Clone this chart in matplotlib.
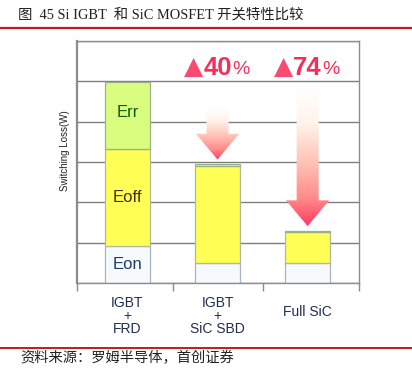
import matplotlib
matplotlib.use("Agg")
import matplotlib.pyplot as plt
import numpy as np
from matplotlib.patches import Polygon
from matplotlib.colors import LinearSegmentedColormap
from matplotlib.lines import Line2D

# ---- data ----
categories = ["IGBT\n+\nFRD", "IGBT\n+\nSiC SBD", "Full SiC"]
eon = [0.92, 0.49, 0.49]
eoff = [2.40, 2.41, 0.78]
err = [1.67, 0.05, 0.03]
reductions = ["", "40", "74"]
arrow_tops = [None, 4.35, 4.8]

title = "图  45 Si IGBT  和 SiC MOSFET 开关特性比较"
source = "资料来源：罗姆半导体，首创证券"

W, H = 412, 381
fig = plt.figure(figsize=(W / 100, H / 100), dpi=100)
fig.patch.set_facecolor("white")

def fx(px):
    return px / W

def fy(py):
    return 1 - py / H

ax = fig.add_axes([fx(77), fy(283), fx(359) - fx(77), fy(41) - fy(283)])

x = np.arange(len(categories))
bw = 0.5
edge = "#a8b4c8"
ax.bar(x, eon, bw, color="#f6fafd", edgecolor=edge, lw=0.9, zorder=2)
ax.bar(x, eoff, bw, bottom=eon, color="#ffff55", edgecolor="#b0b8a0", lw=0.9, zorder=2)
bot2 = np.array(eon) + np.array(eoff)
ax.bar(x, err, bw, bottom=bot2, color="#d9fd7e", edgecolor="#9ab08a", lw=0.9, zorder=2)
totals = bot2 + np.array(err)

sans = ["Liberation Sans", "DejaVu Sans"]
ax.text(x[0], bot2[0] + err[0] / 2 + 0.08, "Err", ha="center", va="center",
        fontsize=12, color="#0d5a0d", family=sans, zorder=4)
ax.text(x[0], eon[0] + eoff[0] / 2, "Eoff", ha="center", va="center",
        fontsize=12, color="#4a2c05", family=sans, zorder=4)
ax.text(x[0], eon[0] / 2, "Eon", ha="center", va="center",
        fontsize=12, color="#1f3a6a", family=sans, zorder=4)

# gradient arrows
cmap = LinearSegmentedColormap.from_list(
    "arr", [(0.0, "#ffffff"), (0.25, "#fff3ea"), (0.55, "#ffc0b4"),
            (0.8, "#ff8a8a"), (1.0, "#ff3a5e")])
shaft_hw, head_hw, head_len = 0.122, 0.24, 0.64
for i in range(len(categories)):
    top = arrow_tops[i]
    if top is None:
        continue
    tip = totals[i] + 0.11
    hb = tip + head_len
    verts = [(x[i] - shaft_hw, top), (x[i] + shaft_hw, top), (x[i] + shaft_hw, hb),
             (x[i] + head_hw, hb), (x[i], tip), (x[i] - head_hw, hb),
             (x[i] - shaft_hw, hb)]
    poly = Polygon(verts, closed=True, facecolor="none", edgecolor="none")
    ax.add_patch(poly)
    grad = np.linspace(0, 1, 256).reshape(-1, 1)
    im = ax.imshow(grad, cmap=cmap, aspect="auto", origin="upper",
                   extent=[x[i] - head_hw, x[i] + head_hw, tip, top],
                   zorder=3, interpolation="bilinear")
    im.set_clip_path(poly)
    num = ax.text(x[i] - 0.16, 5.33, reductions[i], ha="left", va="center",
                  fontsize=18.5, fontweight="bold", color="#f2305a", family=sans, zorder=4)
    ax.annotate("%", xy=(1.0, 0.0), xycoords=num, xytext=(0.3, 1.5),
                textcoords="offset points", ha="left", va="bottom",
                fontsize=14, color="#f2305a", family=sans, zorder=4)
    ax.annotate("▲", xy=(0.0, 0.0), xycoords=num, xytext=(-0.3, 0.5),
                textcoords="offset points", ha="right", va="bottom",
                fontsize=18, color="#fb4a72", family=["DejaVu Sans"], zorder=4)

ax.set_xlim(-0.56, 2.57)
ax.set_ylim(0, 6)
ax.set_yticks(np.arange(0, 7, 1))
ax.set_yticklabels([])
ax.tick_params(axis="y", length=0)
ax.yaxis.grid(True, color="#7f7f7f", lw=1.0, zorder=0)
ax.set_axisbelow(True)

ax.set_xticks([-0.56, 0.5, 1.5, 2.57])
ax.set_xticklabels([])
ax.tick_params(axis="x", length=6, width=1.0, color="#8c8c8c", direction="out")
for i, c in enumerate(categories):
    if "\n" in c:
        ax.text(x[i], -0.33, c, ha="center", va="top", fontsize=10, color="#1e2e50",
                family=sans, linespacing=0.9)
    else:
        ax.text(x[i], -0.72, c, ha="center", va="center", fontsize=10,
                color="#1e2e50", family=sans)

for s in ax.spines.values():
    s.set_color("#8c8c8c")
    s.set_linewidth(1.0)
ax.spines["left"].set_linewidth(1.6)

ax.set_ylabel("Switching Loss(W)", fontsize=7, color="#222222", family=sans)
ax.yaxis.set_label_coords(-0.025, 0.545)

# title, rules, source
fig.text(fx(18), fy(15), title, ha="left", va="center", fontsize=10.35, color="#222222",
         family=["Liberation Serif", "Noto Sans CJK SC"])
fig.add_artist(Line2D([0, 1], [fy(28), fy(28)], color="#c41a1a", lw=1.6,
                      transform=fig.transFigure))
fig.add_artist(Line2D([0, 1], [fy(348), fy(348)], color="#c41a1a", lw=1.4,
                      transform=fig.transFigure))
fig.text(fx(20), fy(358), source, ha="left", va="center", fontsize=10.3, color="#222222",
         family=["Noto Sans CJK SC", "DejaVu Sans"], style="italic")

fig.savefig("out.png", dpi=100, facecolor="white")
